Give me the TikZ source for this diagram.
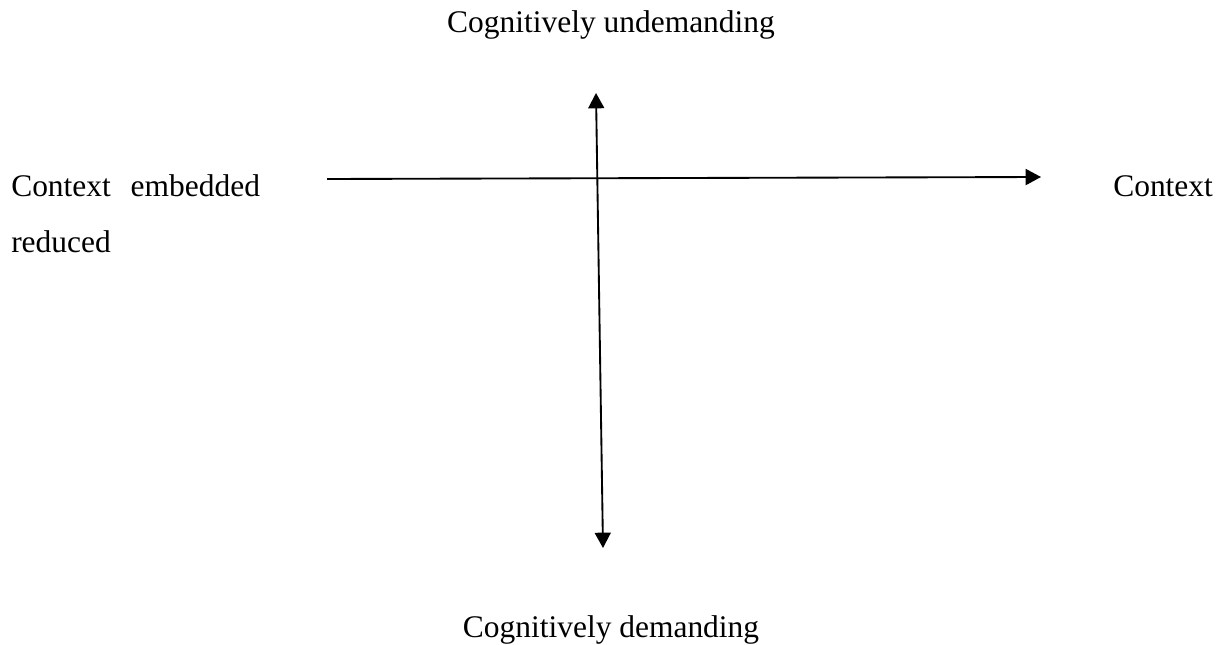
\documentclass[tikz,border=0pt]{standalone}
\usepackage{fontspec}
\setmainfont{Liberation Serif}
\usetikzlibrary{arrows.meta}
\tikzset{
  lbl/.style={inner sep=0pt, font=\fontsize{23.6}{28}\selectfont},
  axis/.style={line width=1.4pt, black},
  tip/.style={-{Triangle[length=11.5pt,width=12pt]}},
  tips/.style={{Triangle[length=11.5pt,width=12pt]}-{Triangle[length=11.5pt,width=12pt]}}
}
\begin{document}
\begin{tikzpicture}[x=0.75pt,y=-0.75pt]
\useasboundingbox (0,0) rectangle (1226,645);
\node[lbl, anchor=base] (top) at (611,33) {Cognitively undemanding};
\node[lbl, anchor=base] (bot) at (611,637) {Cognitively demanding};
\node[lbl, anchor=base west] (ce) at (11,197) {Context\hspace{0.38em} embedded};
\node[lbl, anchor=base west] (red) at (11,252) {reduced};
\node[lbl, anchor=base west] (cr) at (1113,197) {Context};
\coordinate (hl) at (327,179);
\coordinate (hr) at (1041,177);
\coordinate (vt) at (596,93);
\coordinate (vb) at (603,548);
\draw[axis, tip] (hl) -- (hr);
\draw[axis, tips] (vb) -- (vt);
\end{tikzpicture}
\end{document}
